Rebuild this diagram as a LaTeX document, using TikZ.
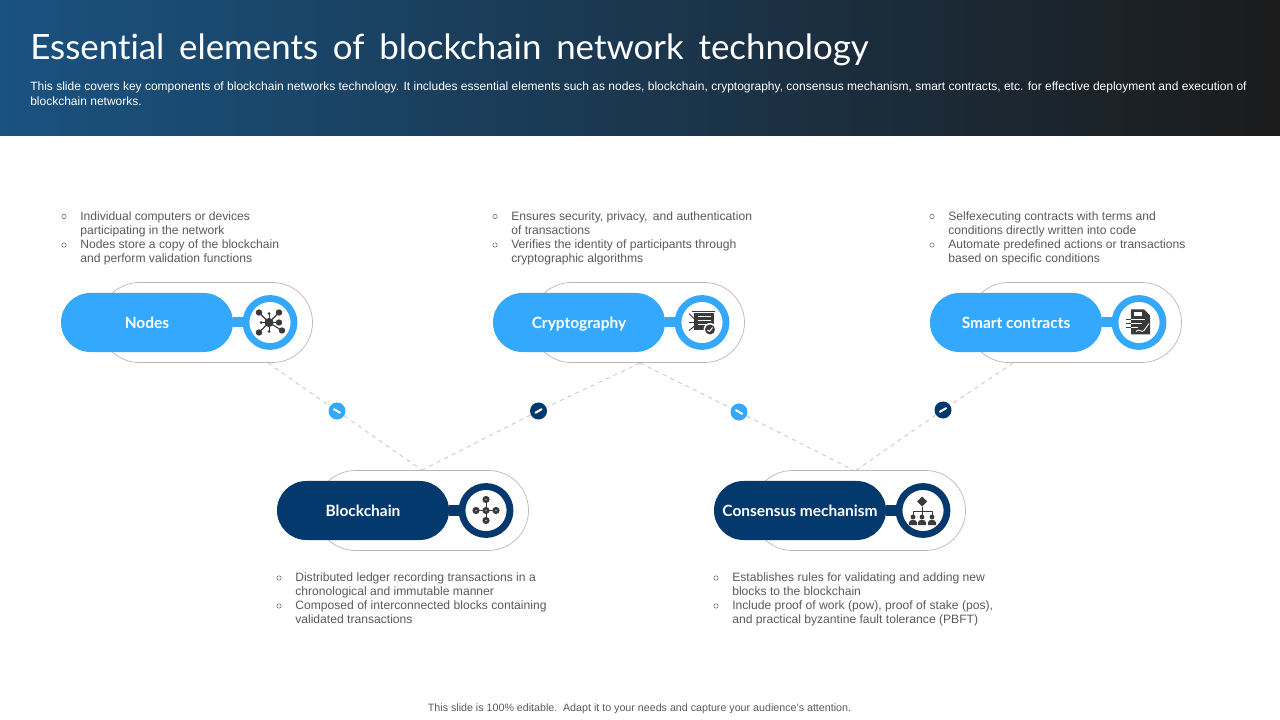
\documentclass[tikz,border=0pt]{standalone}
\usepackage{fontspec}
\setmainfont{Liberation Sans}
\newfontfamily\headfont[Ligatures=NoCommon]{Lato}
\usetikzlibrary{positioning, shapes.misc, shapes.geometric, calc}
\definecolor{skyblue}{HTML}{33A8FC}
\definecolor{navyblue}{HTML}{03396C}
\definecolor{headleft}{HTML}{1A5280}
\definecolor{headmid}{HTML}{1B3C57}
\definecolor{headright}{HTML}{1B1B1B}
\definecolor{bodygrey}{HTML}{595959}
\definecolor{icongrey}{HTML}{3A3A3A}
\tikzset{
  pill/.style={rounded rectangle, minimum width=4.3cm, minimum height=1.475cm,
    inner sep=0pt, text=white, text height=8pt, text depth=0pt,
    font=\headfont\bfseries\fontsize{11}{13}\selectfont},
  shell/.style={rounded rectangle, draw=black!28, line width=0.5pt, fill=white,
    minimum width=5.325cm, minimum height=2cm, inner sep=0pt},
  ring/.style={circle, fill=white, line width=0.17cm, minimum size=1.2cm, inner sep=0pt},
  badge/.style={circle, minimum size=0.425cm, inner sep=0pt},
  tie/.style={black!22, dashed, line width=0.6pt},
  bodytext/.style={anchor=north west, align=left, inner sep=0pt, text=bodygrey,
    font=\fontsize{8.62}{10.2}\selectfont},
  dot/.style={circle, draw=bodygrey, line width=0.35pt, minimum size=0.11cm, inner sep=0pt}
}
\begin{document}
\begin{tikzpicture}[x=0.025cm, y=-0.025cm]
  \useasboundingbox (0,0) rectangle (1280,720);

  % Header band
  \shade[left color=headleft, middle color=headmid, right color=headright]
    (0,0) rectangle (1280,136);
  \node[anchor=west, inner sep=0pt, text=white, font=\headfont\fontsize{24.8}{30}\selectfont]
    (title) at (30,49.5) {Essential\, elements\, of\, blockchain\, network\, technology};
  \node[bodytext, text=white, font=\fontsize{8.54}{10}\selectfont] (subtitle) at (30,82)
    {This slide covers key components of blockchain networks technology. It includes essential elements such as nodes, blockchain, cryptography, consensus mechanism, smart contracts, etc. for effective deployment and execution of\\
     blockchain networks.};

  % Pills
  \foreach \name/\xc/\yc/\clr/\lbl in {
    nodes/147/322.5/skyblue/Nodes,
    crypto/579/322.5/skyblue/Cryptography,
    smart/1016/322.5/skyblue/Smart contracts,
    chain/363/510.5/navyblue/Blockchain,
    consensus/800/510.5/navyblue/Consensus mechanism
  }{
    \node[shell] (\name shell) at (\xc+59,\yc) {};
    \node[pill, fill=\clr] (\name) at (\xc,\yc) {\lbl};
    \node[ring, draw=\clr] (\name ring) at (\xc+123,\yc) {};
    \draw[\clr, line width=0.25cm] (\name.east) -- (\name ring.west);
  }

  % Ties between the pills
  \coordinate (nodesfoot) at (268,363);
  \coordinate (cryptofoot) at (640,363);
  \coordinate (smartfoot) at (1013,363);
  \coordinate (consensustop) at (855,471);
  \foreach \name/\xc/\yc/\clr/\ang in {
    tieA/337/411/skyblue/-30,
    tieB/538.5/411/navyblue/30,
    tieC/739/412/skyblue/-30,
    tieD/943/410/navyblue/30
  }{
    \node[badge, fill=\clr] (\name) at (\xc,\yc) {};
    \draw[white, line width=1.5pt, line cap=round, shift={(\name)}, rotate=\ang]
      (-3.5,0) -- (3.5,0);
  }
  \draw[tie] (nodesfoot) -- (tieA);
  \draw[tie] (tieA) -- (chainshell.north);
  \draw[tie] (cryptofoot) -- (tieB);
  \draw[tie] (tieB) -- (chainshell.north);
  \draw[tie] (cryptofoot) -- (tieC);
  \draw[tie] (tieC) -- (consensustop);
  \draw[tie] (smartfoot) -- (tieD);
  \draw[tie] (tieD) -- (consensustop);

  % Bullet texts
  \node[bodytext] (nodesA) at (80,211) {Individual computers or devices\\participating in the network};
  \node[bodytext] (nodesB) at (80,239.5) {Nodes store a copy of the blockchain\\and perform validation functions};
  \node[bodytext] (cryptoA) at (511,211) {Ensures security, privacy,\, and authentication\\of transactions};
  \node[bodytext] (cryptoB) at (511,239.5) {Verifies the identity of participants through\\cryptographic algorithms};
  \node[bodytext] (smartA) at (948,211) {Selfexecuting contracts with terms and\\conditions directly written into code};
  \node[bodytext] (smartB) at (948,239.5) {Automate predefined actions or transactions\\based on specific conditions};
  \node[bodytext] (chainA) at (295,572.5) {Distributed ledger recording transactions in a\\chronological and immutable manner};
  \node[bodytext] (chainB) at (295,600.5) {Composed of interconnected blocks containing\\validated transactions};
  \node[bodytext] (consensusA) at (732,572.5) {Establishes rules for validating and adding new\\blocks to the blockchain};
  \node[bodytext] (consensusB) at (732,600.5) {Include proof of work (pow), proof of stake (pos),\\and practical byzantine fault tolerance (PBFT)};
  \foreach \name in {nodesA,nodesB,cryptoA,cryptoB,smartA,smartB,chainA,chainB,consensusA,consensusB}{
    \node[dot] at ($(\name.north west)+(-16,5.5)$) {};
  }

  % Icons
  \begin{scope}[shift={(nodesring)}, icongrey]
    \foreach \px/\py in {-11/-10, 9/-10, -11/10, 9/0, 12/8}{
      \draw[line width=0.8pt] (-1,0) -- (\px,\py);
      \fill (\px,\py) circle (3.2);
    }
    \foreach \px/\py in {-1/-9, -1/9, -9/0}{
      \draw[line width=0.5pt] (-1,0) -- (\px,\py);
      \fill (\px,\py) circle (1.5);
    }
    \fill (-1,0) circle (4.6);
  \end{scope}
  \begin{scope}[shift={(cryptoring)}, icongrey]
    \draw[line width=0.8pt] (-10,-11) -- (13,-11);
    \fill (-8,-9) rectangle (12,8);
    \foreach \py in {-6,-2,2}{
      \draw[white, line width=0.6pt] (-4,\py) -- (9,\py);
    }
    \foreach \py/\qy in {-9/-4, 0/0, 8/4}{
      \draw[line width=0.7pt] (-13,\py) -- (-8,\qy);
    }
    \fill[white] (8,7) circle (6.5);
    \fill (8,7) circle (5);
    \draw[white, line width=0.7pt] (5.5,7.5) -- (7.5,9) -- (10.5,5);
  \end{scope}
  \begin{scope}[shift={(smartring)}, icongrey]
    \fill (-8,-13) -- (5,-13) -- (11,-7) -- (11,12) -- (-8,12) -- cycle;
    \fill[white] (-5,-10) rectangle (3,-6);
    \draw[white, line width=0.5pt] (-8,-3) -- (6,-3);
    \draw[white, line width=0.5pt] (-8,1) -- (3,1);
    \draw[white, line width=0.5pt] (-8,5) -- (-1,5);
    \draw[white, line width=0.6pt] (-3,9) .. controls (0,5) and (2,11) .. (5,8) -- (10,1);
    \draw[icongrey, line width=0.5pt] (-13,-3) -- (-8,-3) (-13,1) -- (-8,1) (-13,5) -- (-8,5);
  \end{scope}
  \begin{scope}[shift={(chainring)}, icongrey]
    \draw[line width=0.6pt] (-10,0) -- (10,0) (0,-11) -- (0,10);
    \foreach \px/\py in {0/0, -10/0, 10/0, 0/-11, 0/10}{
      \fill (\px,\py) circle (3.6);
      \fill[white] (\px,\py) circle (0.7);
    }
  \end{scope}
  \begin{scope}[shift={(consensusring)}, icongrey]
    \fill (-1,-14) -- (4,-9) -- (-1,-4) -- (-6,-9) -- cycle;
    \draw[line width=0.6pt] (-1,-4) -- (-1,4) (-10,4) -- (-10,1) -- (9,1) -- (9,4);
    \foreach \px in {-10,-1,9}{
      \fill (\px,6.5) circle (2.4);
      \fill (\px-4,14.5) -- (\px-4,12) .. controls (\px-4,8.5) and (\px+4,8.5) .. (\px+4,12) -- (\px+4,14.5) -- cycle;
    }
  \end{scope}

  % Footer
  \node[inner sep=0pt, text=bodygrey, font=\fontsize{7.6}{9}\selectfont] (footer) at (639.5,708.5)
    {This slide is 100\% editable.\, Adapt it to your needs and capture your audience's attention.};
\end{tikzpicture}
\end{document}
